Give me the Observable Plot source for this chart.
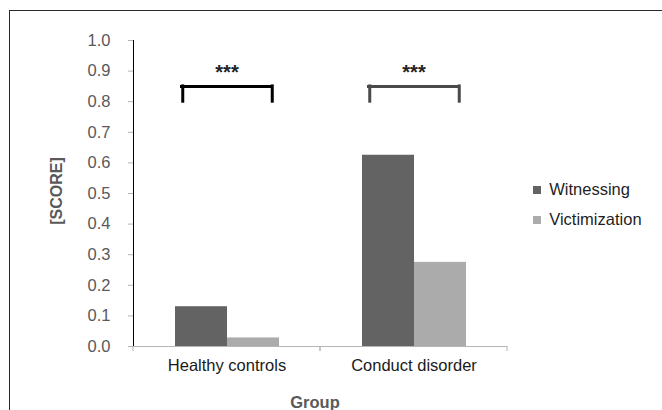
<!DOCTYPE html>
<html>
<head>
<meta charset="utf-8">
<script src="https://cdn.jsdelivr.net/npm/d3@7"></script>
<script src="https://cdn.jsdelivr.net/npm/@observablehq/plot@0.6"></script>
<style>
  body { margin: 0; background: #fff; }
  #wrap { position: relative; width: 662px; height: 410px; overflow: hidden; font-family: "Liberation Sans", Arial, sans-serif; }
  #border { position: absolute; left: 9px; top: 10px; width: 700px; height: 500px; border-left: 1.5px solid #2b2b2b; border-top: 1.5px solid #2b2b2b; }
  #chart { position: absolute; left: 0; top: 0; }
  #chart svg [aria-label^="y-axis"] text { fill: #595959; font-size: 16.5px; }
  #chart svg [aria-label^="y-axis"] line, #chart svg [aria-label^="y-axis"] path { stroke: #b5b5b5; }
  #chart svg [aria-label^="fx-axis"] text { fill: #1a1a1a; font-size: 16.5px; }
  #ylabel { position: absolute; left: 57px; top: 191px; transform: translate(-50%, -50%) rotate(-90deg); font-weight: bold; font-size: 16px; color: #595959; white-space: nowrap; }
  #xlabel { position: absolute; left: 315px; top: 402px; transform: translate(-50%, -50%); font-weight: bold; font-size: 16.5px; color: #595959; white-space: nowrap; }
  #legend { position: absolute; left: 533px; top: 180px; }
  #legend, #legend * { font-family: "Liberation Sans", Arial, sans-serif; font-size: 16.5px; color: #1f1f1f; }
</style>
</head>
<body>
<div id="wrap">
  <div id="border"></div>
  <div id="chart"></div>
  <div id="ylabel">[SCORE]</div>
  <div id="xlabel">Group</div>
  <div id="legend"></div>
</div>
<script>
const groups = ["Healthy controls", "Conduct disorder"];
const series = ["Witnessing", "Victimization"];
const witnessing = [0.13, 0.625];
const victimization = [0.028, 0.275];
const seriesColors = ["#636363", "#ababab"];
const yTicks = [0, 0.1, 0.2, 0.3, 0.4, 0.5, 0.6, 0.7, 0.8, 0.9, 1.0];
const bracketTop = [0.85, 0.85];
const bracketBase = [0.8, 0.8];
const starLevel = [0.9, 0.9];
const starText = ["***", "***"];
const bracketColors = ["#000000", "#4a4a4a"];

const bars = [];
groups.forEach((g, i) => {
  bars.push({group: g, series: series[0], value: witnessing[i]});
  bars.push({group: g, series: series[1], value: victimization[i]});
});
const brackets = groups.map((g, i) => ({group: g, top: bracketTop[i], base: bracketBase[i], star: starLevel[i], text: starText[i], color: bracketColors[i]}));

function categoryTicks(index, scales) {
  const x = scales.x, y = scales.y;
  const [x0, x1] = x.range();
  const y0 = y(0);
  const g = d3.create("svg:g").attr("aria-label", "category ticks");
  for (const xv of [x0, x1]) {
    g.append("line").attr("x1", xv).attr("x2", xv).attr("y1", y0).attr("y2", y0 + 5)
      .attr("stroke", "#b5b5b5").attr("stroke-width", 1);
  }
  return g.node();
}

const plot = Plot.plot({
  width: 662,
  height: 410,
  marginLeft: 133,
  marginRight: 155,
  marginTop: 40,
  marginBottom: 64,
  style: {fontSize: "16px", fontFamily: "'Liberation Sans', Arial, sans-serif", background: "transparent", overflow: "visible"},
  fx: {domain: groups, padding: 0, axis: "bottom", tickSize: 0, tickPadding: 13, label: null},
  x: {domain: series, paddingInner: 0, paddingOuter: 0.78, axis: null},
  y: {domain: [0, 1], ticks: yTicks, tickFormat: d3.format(".1f"), tickSize: 5, tickPadding: 18, label: null, line: true},
  color: {domain: series, range: seriesColors},
  marks: [
    Plot.barY(bars, {fx: "group", x: "series", y: "value", fill: "series"}),
    Plot.ruleY([0], {stroke: "#b5b5b5"}),
    categoryTicks,
    Plot.ruleY(brackets, {fx: "group", y: "top", stroke: "color", strokeWidth: 3, insetLeft: 47, insetRight: 47}),
    Plot.ruleX(brackets, {fx: "group", x: () => series[0], y1: "base", y2: "top", dx: -18.75, stroke: "color", strokeWidth: 3, strokeLinecap: "square"}),
    Plot.ruleX(brackets, {fx: "group", x: () => series[1], y1: "base", y2: "top", dx: 18.75, stroke: "color", strokeWidth: 3, strokeLinecap: "square"}),
    Plot.text(brackets, {fx: "group", y: "star", text: "text", fontSize: 20, fontWeight: "bold", fill: "#222", dy: 1})
  ]
});
document.getElementById("chart").appendChild(plot);

const legend = Plot.legend({
  color: {domain: series, range: seriesColors},
  legend: "swatches",
  columns: 1,
  swatchSize: 8,
  style: {fontSize: "16.5px", fontFamily: "'Liberation Sans', Arial, sans-serif", color: "#1f1f1f"}
});
legend.querySelectorAll("svg").forEach(s => { if (s.parentElement) s.parentElement.style.marginBottom = "10px"; });
document.getElementById("legend").appendChild(legend);
</script>
</body>
</html>
